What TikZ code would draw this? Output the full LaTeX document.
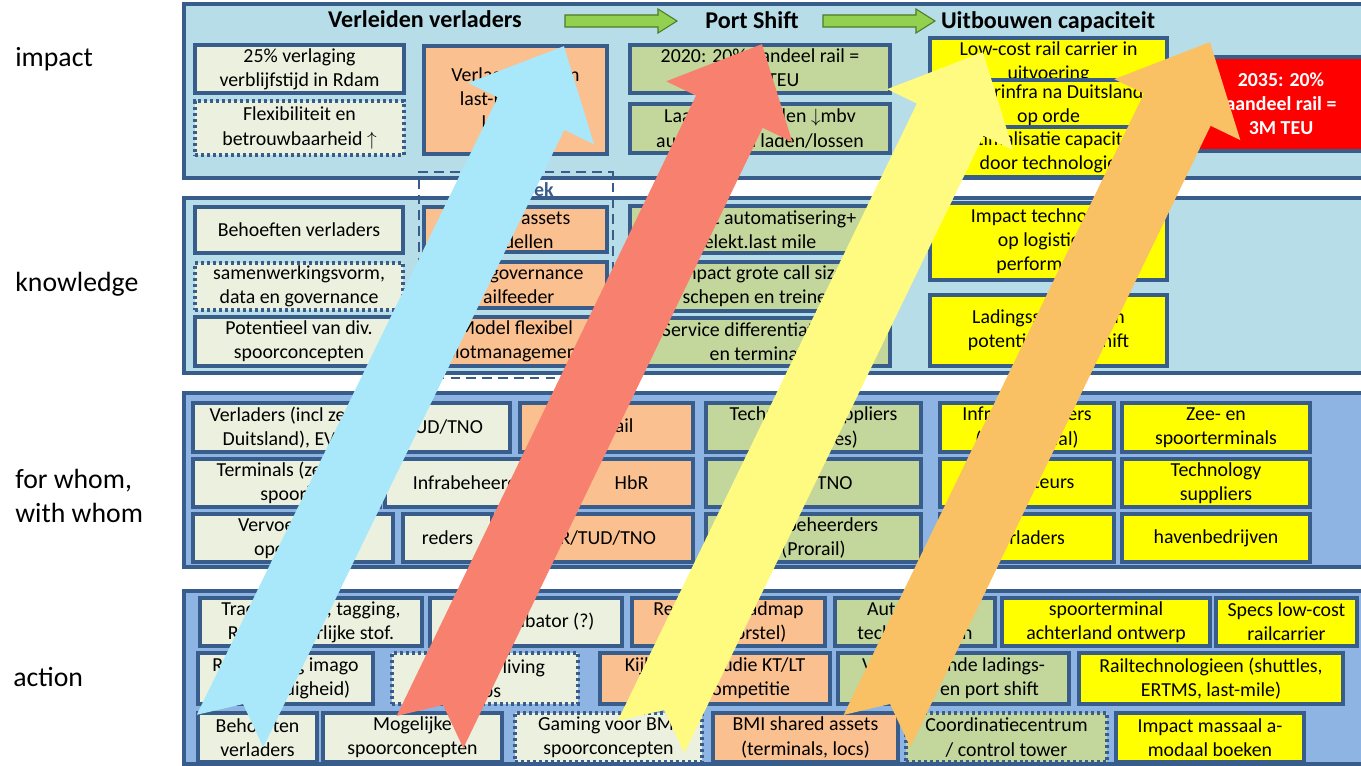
\documentclass[tikz,border=0pt]{standalone}
\usepackage{fontspec}
\setmainfont{Carlito}

\definecolor{bandlight}{HTML}{B7DDE8}
\definecolor{bandmid}{HTML}{8EB4E3}
\definecolor{frame}{HTML}{385D8A}
\definecolor{cream}{HTML}{EBF1DE}
\definecolor{peach}{HTML}{FAC090}
\definecolor{olive}{HTML}{C3D69B}
\definecolor{lemon}{HTML}{FFFF00}
\definecolor{alarm}{HTML}{FF0000}
\definecolor{leaf}{HTML}{92D050}
\definecolor{leafedge}{HTML}{4F7A28}
\definecolor{arrowblue}{HTML}{A8E8FA}
\definecolor{arrowred}{HTML}{F8806E}
\definecolor{arrowyellow}{HTML}{FFFB81}
\definecolor{arroworange}{HTML}{FAC064}

\tikzset{
  bandL/.style={draw=frame, line width=1.8pt, fill=bandlight, inner sep=0pt},
  bandM/.style={draw=frame, line width=1.8pt, fill=bandmid, inner sep=0pt},
  frameD/.style={draw=frame, line width=1.5pt, dash pattern=on 5.5pt off 3.5pt, inner sep=0pt},
  card/.style={draw=frame, line width=1.8pt, inner sep=0pt, align=center, font=\fontsize{11.3}{13.7}\selectfont},
  cbox/.style={card, fill=cream},
  cdot/.style={card, fill=cream, dash pattern=on 1.7pt off 1.7pt},
  obox/.style={card, fill=peach},
  gbox/.style={card, fill=olive},
  gdot/.style={card, fill=olive, dash pattern=on 1.7pt off 1.7pt},
  ybox/.style={card, fill=lemon},
  rbox/.style={card, fill=alarm, text=white, font=\bfseries\fontsize{11.3}{13.7}\selectfont},
  rowlabel/.style={anchor=west, align=left, inner sep=0pt, font=\fontsize{15.8}{19.3}\selectfont},
  heading/.style={font=\bfseries\fontsize{13.7}{16}\selectfont},
  shiftarrow/.style={draw=leafedge, fill=leaf, line width=0.6pt},
}

% box from (x1,y1) to (x2,y2) in pixels
\newcommand{\blok}[7]{\node[#1, minimum width={(#5-#3)*0.02cm}, minimum height={(#6-#4)*0.02cm}] (#2) at ({(#3+#5)/2},{(#4+#6)/2}) {#7};}

% big swallow-tail arrow from tail to tip
\newcommand{\bigarrow}[5]{%
  \pgfmathsetmacro{\arang}{atan2(#3-#5,#4-#2)}%
  \pgfmathsetmacro{\arlen}{veclen(#4-#2,#5-#3)}%
  \fill[#1, shift={(#2,#3)}, rotate=\arang]
    (0,37) -- (\arlen-75,37) -- (\arlen-75,70) -- (\arlen,0)
    -- (\arlen-75,-70) -- (\arlen-75,-37) -- (0,-37) -- (30,0) -- cycle;}

\begin{document}
\begin{tikzpicture}[x=0.02cm, y=-0.02cm]
\useasboundingbox (0,0) rectangle (1361,766);
\clip (0,0) rectangle (1361,766);

% row labels
\node[rowlabel] (lImpact) at (15,59) {impact};
\node[rowlabel] (lKnow) at (15,284) {knowledge};
\node[rowlabel] (lWhom) at (15,496) {for whom,\\with whom};
\node[rowlabel] (lAction) at (13,677) {action};

% bands
\blok{bandL}{bImpact}{184}{4}{1400}{178}{}
\blok{bandL}{bKnow}{184}{198}{1400}{373}{}
\blok{bandM}{bWhom}{184}{393}{1400}{567}{}
\blok{bandM}{bAction}{184}{591}{1400}{764}{}

\blok{frameD}{dOnderzoek}{419}{172}{613}{378}{}
\node[heading, text=frame, font=\bfseries\fontsize{11.3}{13}\selectfont] (tOnderzoek) at (509,190) {Onderzoek};

% headers
\node[heading] (hVerl) at (425,19) {Verleiden verladers};
\node[heading] (hPort) at (752,20) {Port Shift};
\node[heading] (hUit) at (1048,22) {Uitbouwen capaciteit};
\draw[shiftarrow] (565,15) -- (658,15) -- (658,9) -- (677,21) -- (658,33) -- (658,27) -- (565,27) -- cycle;
\draw[shiftarrow] (823,15) -- (916,15) -- (916,9) -- (935,21) -- (916,33) -- (916,27) -- (823,27) -- cycle;

% impact
\blok{cbox}{i1}{195}{45}{404}{93}{25\% verlaging\\verblijfstijd in Rdam}
\blok{cdot}{i2}{195}{101}{404}{155}{Flexibiliteit en\\betrouwbaarheid $\uparrow$}
\blok{obox}{i3}{424}{46}{607}{154}{Verlagen kosten\\last-mile door\\labelling}
\blok{gbox}{i4}{630}{45}{890}{93}{2020: 20\% aandeel rail =\\1,5M TEU}
\blok{gbox}{i5}{630}{104}{890}{153}{Laad- en lostijden $\downarrow$mbv\\automatisch laden/lossen}
\blok{ybox}{i6}{930}{38}{1167}{86}{Low-cost rail carrier in\\uitvoering}
\blok{ybox}{i7}{930}{80}{1167}{131}{Spoorinfra na Duitsland\\op orde}
\blok{ybox}{i8}{930}{127}{1167}{177}{Optimalisatie capaciteit\\door technologie}
\blok{rbox}{i9}{1197}{57}{1365}{151}{2035: 20\%\\aandeel rail =\\3M TEU}

% knowledge
\blok{cbox}{k1}{195}{207}{403}{253}{Behoeften verladers}
\blok{cdot}{k2}{195}{263}{403}{310}{samenwerkingsvorm,\\data en governance}
\blok{cbox}{k3}{195}{317}{403}{366}{Potentieel van div.\\spoorconcepten}
\blok{obox}{k4}{424}{207}{607}{252}{Shared assets\\modellen}
\blok{obox}{k5}{424}{262}{607}{308}{Data governance\\railfeeder}
\blok{obox}{k6}{424}{317}{607}{366}{Model flexibel\\slotmanagement}
\blok{gbox}{k7}{630}{206}{890}{253}{Impact automatisering+\\elekt.last mile}
\blok{gbox}{k8}{630}{262}{890}{311}{Impact grote call size\\schepen en treinen}
\blok{gbox}{k9}{630}{318}{890}{366}{Service differentiatie rail\\en terminals}
\blok{ybox}{k10}{930}{203}{1167}{280}{Impact technologie\\op logistieke\\performance}
\blok{ybox}{k11}{930}{295}{1167}{366}{Ladingsstromen en\\potentiele port shift}

% for whom, with whom
\blok{cbox}{w1}{193}{403}{378}{452}{Verladers (incl zee-\\Duitsland), EVO}
\blok{cbox}{w2}{378}{403}{510}{452}{TUD/TNO}
\blok{obox}{w3}{520}{403}{693}{452}{Keyrail}
\blok{gbox}{w4}{706}{403}{921}{452}{Technology suppliers\\(machines)}
\blok{ybox}{w5}{940}{403}{1114}{452}{Infrabeheerders\\(incl. kanaal)}
\blok{ybox}{w6}{1122}{403}{1310}{452}{Zee- en\\spoorterminals}
\blok{cbox}{w7}{193}{459}{380}{507}{Terminals (zee en\\spoor)}
\blok{cbox}{w8}{385}{459}{570}{507}{Infrabeheerders}
\blok{obox}{w9}{570}{459}{693}{507}{HbR}
\blok{gbox}{w10}{706}{459}{921}{507}{TUD/TNO}
\blok{ybox}{w11}{940}{459}{1114}{507}{Expediteurs}
\blok{ybox}{w12}{1122}{459}{1310}{507}{Technology\\suppliers}
\blok{cbox}{w13}{193}{514}{393}{562}{Vervoerders /\\operators}
\blok{cbox}{w14}{403}{514}{492}{562}{reders}
\blok{obox}{w15}{500}{514}{693}{562}{EUR/TUD/TNO}
\blok{gbox}{w16}{706}{514}{921}{562}{Infrabeheerders\\(Prorail)}
\blok{ybox}{w17}{940}{514}{1114}{562}{Verladers}
\blok{ybox}{w18}{1122}{514}{1310}{562}{havenbedrijven}

% action
\blok{cbox}{a1}{200}{598}{422}{646}{Track \& trace, tagging,\\RFID gevaarlijke stof.}
\blok{cbox}{a2}{430}{598}{622}{646}{Rail incubator (?)}
\blok{obox}{a3}{632}{598}{825}{646}{Research roadmap\\(incl. voorstel)}
\blok{gbox}{a4}{835}{598}{995}{646}{Automation\\technologieen}
\blok{ybox}{a5}{1002}{598}{1210}{646}{spoorterminal\\achterland ontwerp}
\blok{ybox}{a6}{1216}{598}{1357}{646}{Specs low-cost\\railcarrier}
\blok{cbox}{a7}{198}{653}{373}{704}{Rebranding imago\\(zorgvuldigheid)}
\blok{cdot}{a8}{392}{653}{578}{704}{Opzetten living\\labs}
\blok{obox}{a9}{600}{653}{830}{704}{Kijk op de studie KT/LT\\+ havencompetitie}
\blok{gbox}{a10}{838}{653}{1069}{704}{Voorspellende ladings-\\stromen en port shift}
\blok{ybox}{a11}{1079}{653}{1343}{704}{Railtechnologieen (shuttles,\\ERTMS, last-mile)}
\blok{cbox}{a12}{198}{713}{317}{762}{Behoeften\\verladers}
\blok{cbox}{a13}{323}{713}{502}{762}{Mogelijke\\spoorconcepten}
\blok{cdot}{a14}{515}{713}{702}{762}{Gaming voor BMI\\spoorconcepten}
\blok{obox}{a15}{713}{713}{898}{762}{BMI shared assets\\(terminals, locs)}
\blok{gdot}{a16}{906}{713}{1107}{762}{Coordinatiecentrum\\/ control tower}
\blok{ybox}{a17}{1116}{713}{1304}{762}{Impact massaal  a-\\modaal boeken}

% the four paths from action to impact
\bigarrow{arrowblue}{230}{731}{564}{46}
\bigarrow{arrowred}{430}{732}{762}{44}
\bigarrow{arrowyellow}{651}{737}{983}{52}
\bigarrow{arroworange}{877}{731}{1210}{42}
\end{tikzpicture}
\end{document}
